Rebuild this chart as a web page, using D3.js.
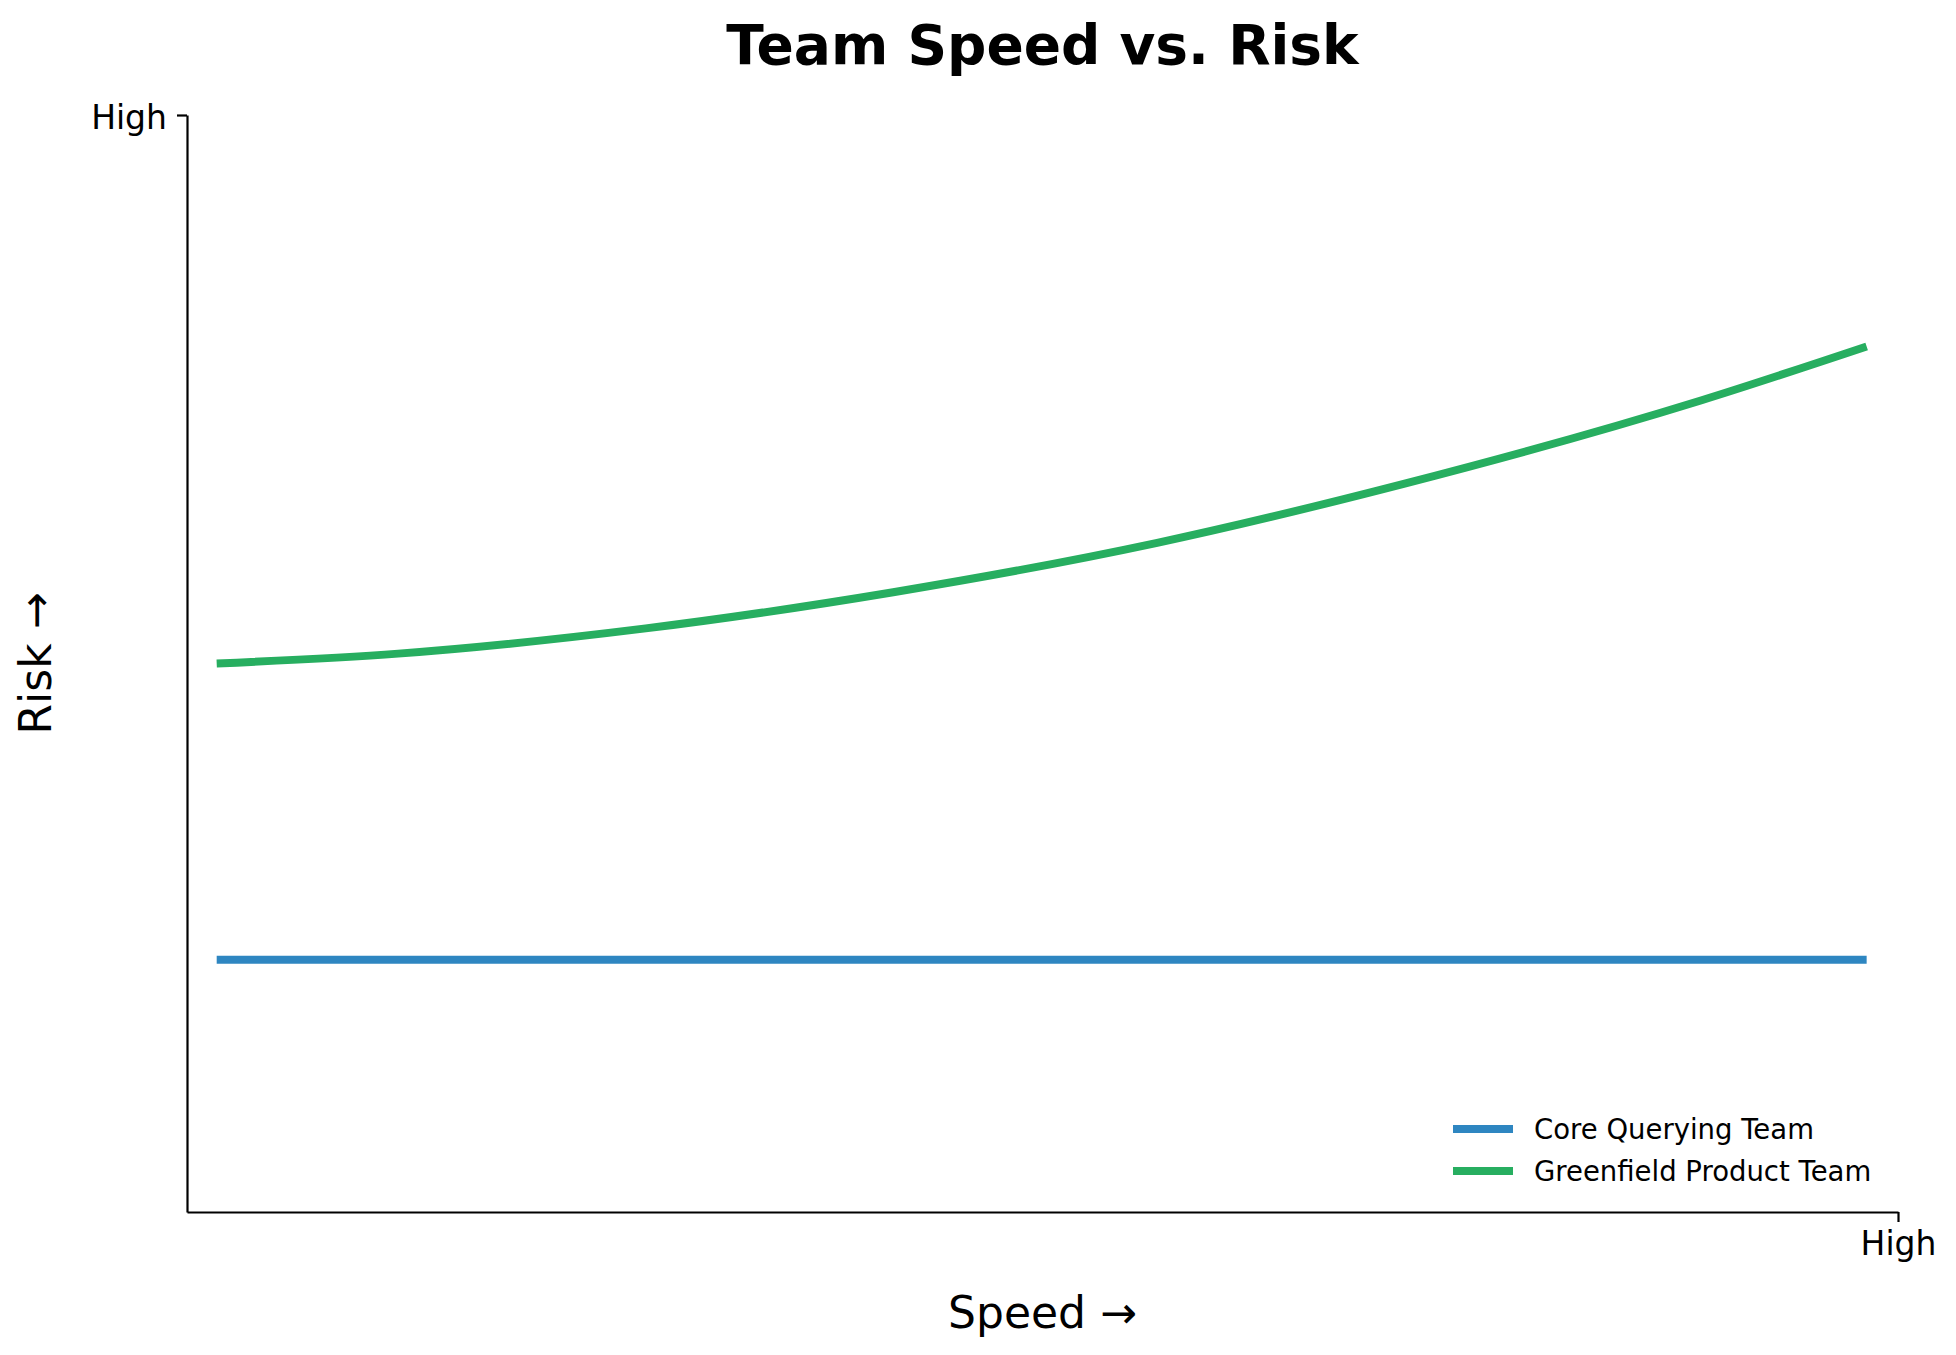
<!DOCTYPE html>
<html>
<head>
<meta charset="utf-8">
<script src="https://cdn.jsdelivr.net/npm/d3@7"></script>
<style>
  body { margin: 0; background: #fff; }
  svg { display: block; font-family: "DejaVu Sans", sans-serif; }
</style>
</head>
<body>
<svg id="chart"></svg>
<script>
// values (speed 0..10, risk 0..10)
var speed = [0, 1.1, 2.6, 4.1, 5.7, 7.2, 9.0, 10]
var coreRisk = [2.3, 2.3, 2.3, 2.3, 2.3, 2.3, 2.3, 2.3]
var greenfieldRisk = [5.0, 5.09, 5.32, 5.65, 6.1, 6.64, 7.4, 7.89]
var seriesNames = ["Core Querying Team", "Greenfield Product Team"]
var seriesColors = ["#2E86C1", "#27AE60"]
var xTickLabels = ["High"]
var yTickLabels = ["High"]

var width = 1956, height = 1355
var margin = {top: 115, right: 58, bottom: 143, left: 187}

var svg = d3.select("#chart")
  .attr("width", width)
  .attr("height", height)

// small padding on x so the lines don't touch the spine
var x = d3.scaleLinear()
  .domain([-0.18, 10.19])
  .range([margin.left, width - margin.right])

var y = d3.scaleLinear()
  .domain([0, 10])
  .range([height - margin.bottom, margin.top])

var xAxis = g => g
  .attr("transform", `translate(0,${height - margin.bottom})`)
  .call(d3.axisBottom(x)
    .tickValues([x.domain()[1]])
    .tickFormat((d, i) => xTickLabels[i])
    .tickSize(10).tickSizeOuter(0).tickPadding(10))

var yAxis = g => g
  .attr("transform", `translate(${margin.left},0)`)
  .call(d3.axisLeft(y)
    .tickValues([y.domain()[1]])
    .tickFormat((d, i) => yTickLabels[i])
    .tickSize(10).tickSizeOuter(0).tickPadding(10))

var gx = svg.append("g").call(xAxis)
var gy = svg.append("g").call(yAxis)

svg.selectAll(".domain, .tick line")
  .attr("stroke", "#000")
  .attr("stroke-width", 2.2)
svg.selectAll(".tick text")
  .attr("font-size", 33)
  .attr("font-family", "DejaVu Sans")
  .attr("fill", "#000")
gy.selectAll(".tick text").attr("dy", "0.4em")

var line = d3.line()
  .curve(d3.curveMonotoneX)
  .x(d => x(d[0]))
  .y(d => y(d[1]))

var series = [
  speed.map((s, i) => [s, coreRisk[i]]),
  speed.map((s, i) => [s, greenfieldRisk[i]])
]

svg.append("g")
  .selectAll("path")
  .data(series)
  .join("path")
    .attr("fill", "none")
    .attr("stroke", (d, i) => seriesColors[i])
    .attr("stroke-width", 8)
    .attr("d", line)

// title + axis labels
svg.append("text")
  .attr("x", (margin.left + width - margin.right) / 2)
  .attr("y", 64)
  .attr("text-anchor", "middle")
  .attr("font-size", 55)
  .attr("font-weight", "bold")
  .text("Team Speed vs. Risk")

svg.append("text")
  .attr("x", (margin.left + width - margin.right) / 2)
  .attr("y", 1328)
  .attr("text-anchor", "middle")
  .attr("font-size", 44)
  .text("Speed \u2192")

svg.append("text")
  .attr("transform", `translate(51,${(margin.top + height - margin.bottom) / 2}) rotate(-90)`)
  .attr("text-anchor", "middle")
  .attr("font-size", 44)
  .text("Risk \u2192")

// legend, lower right
var legend = svg.append("g")
  .attr("transform", "translate(1453,1129)")

var items = legend.selectAll("g")
  .data(seriesNames)
  .join("g")
    .attr("transform", (d, i) => `translate(0,${i * 42})`)

items.append("line")
  .attr("x1", 0).attr("x2", 60)
  .attr("stroke", (d, i) => seriesColors[i])
  .attr("stroke-width", 8)

items.append("text")
  .attr("x", 81)
  .attr("dy", "0.36em")
  .attr("font-size", 27.5)
  .text(d => d)
</script>
</body>
</html>
